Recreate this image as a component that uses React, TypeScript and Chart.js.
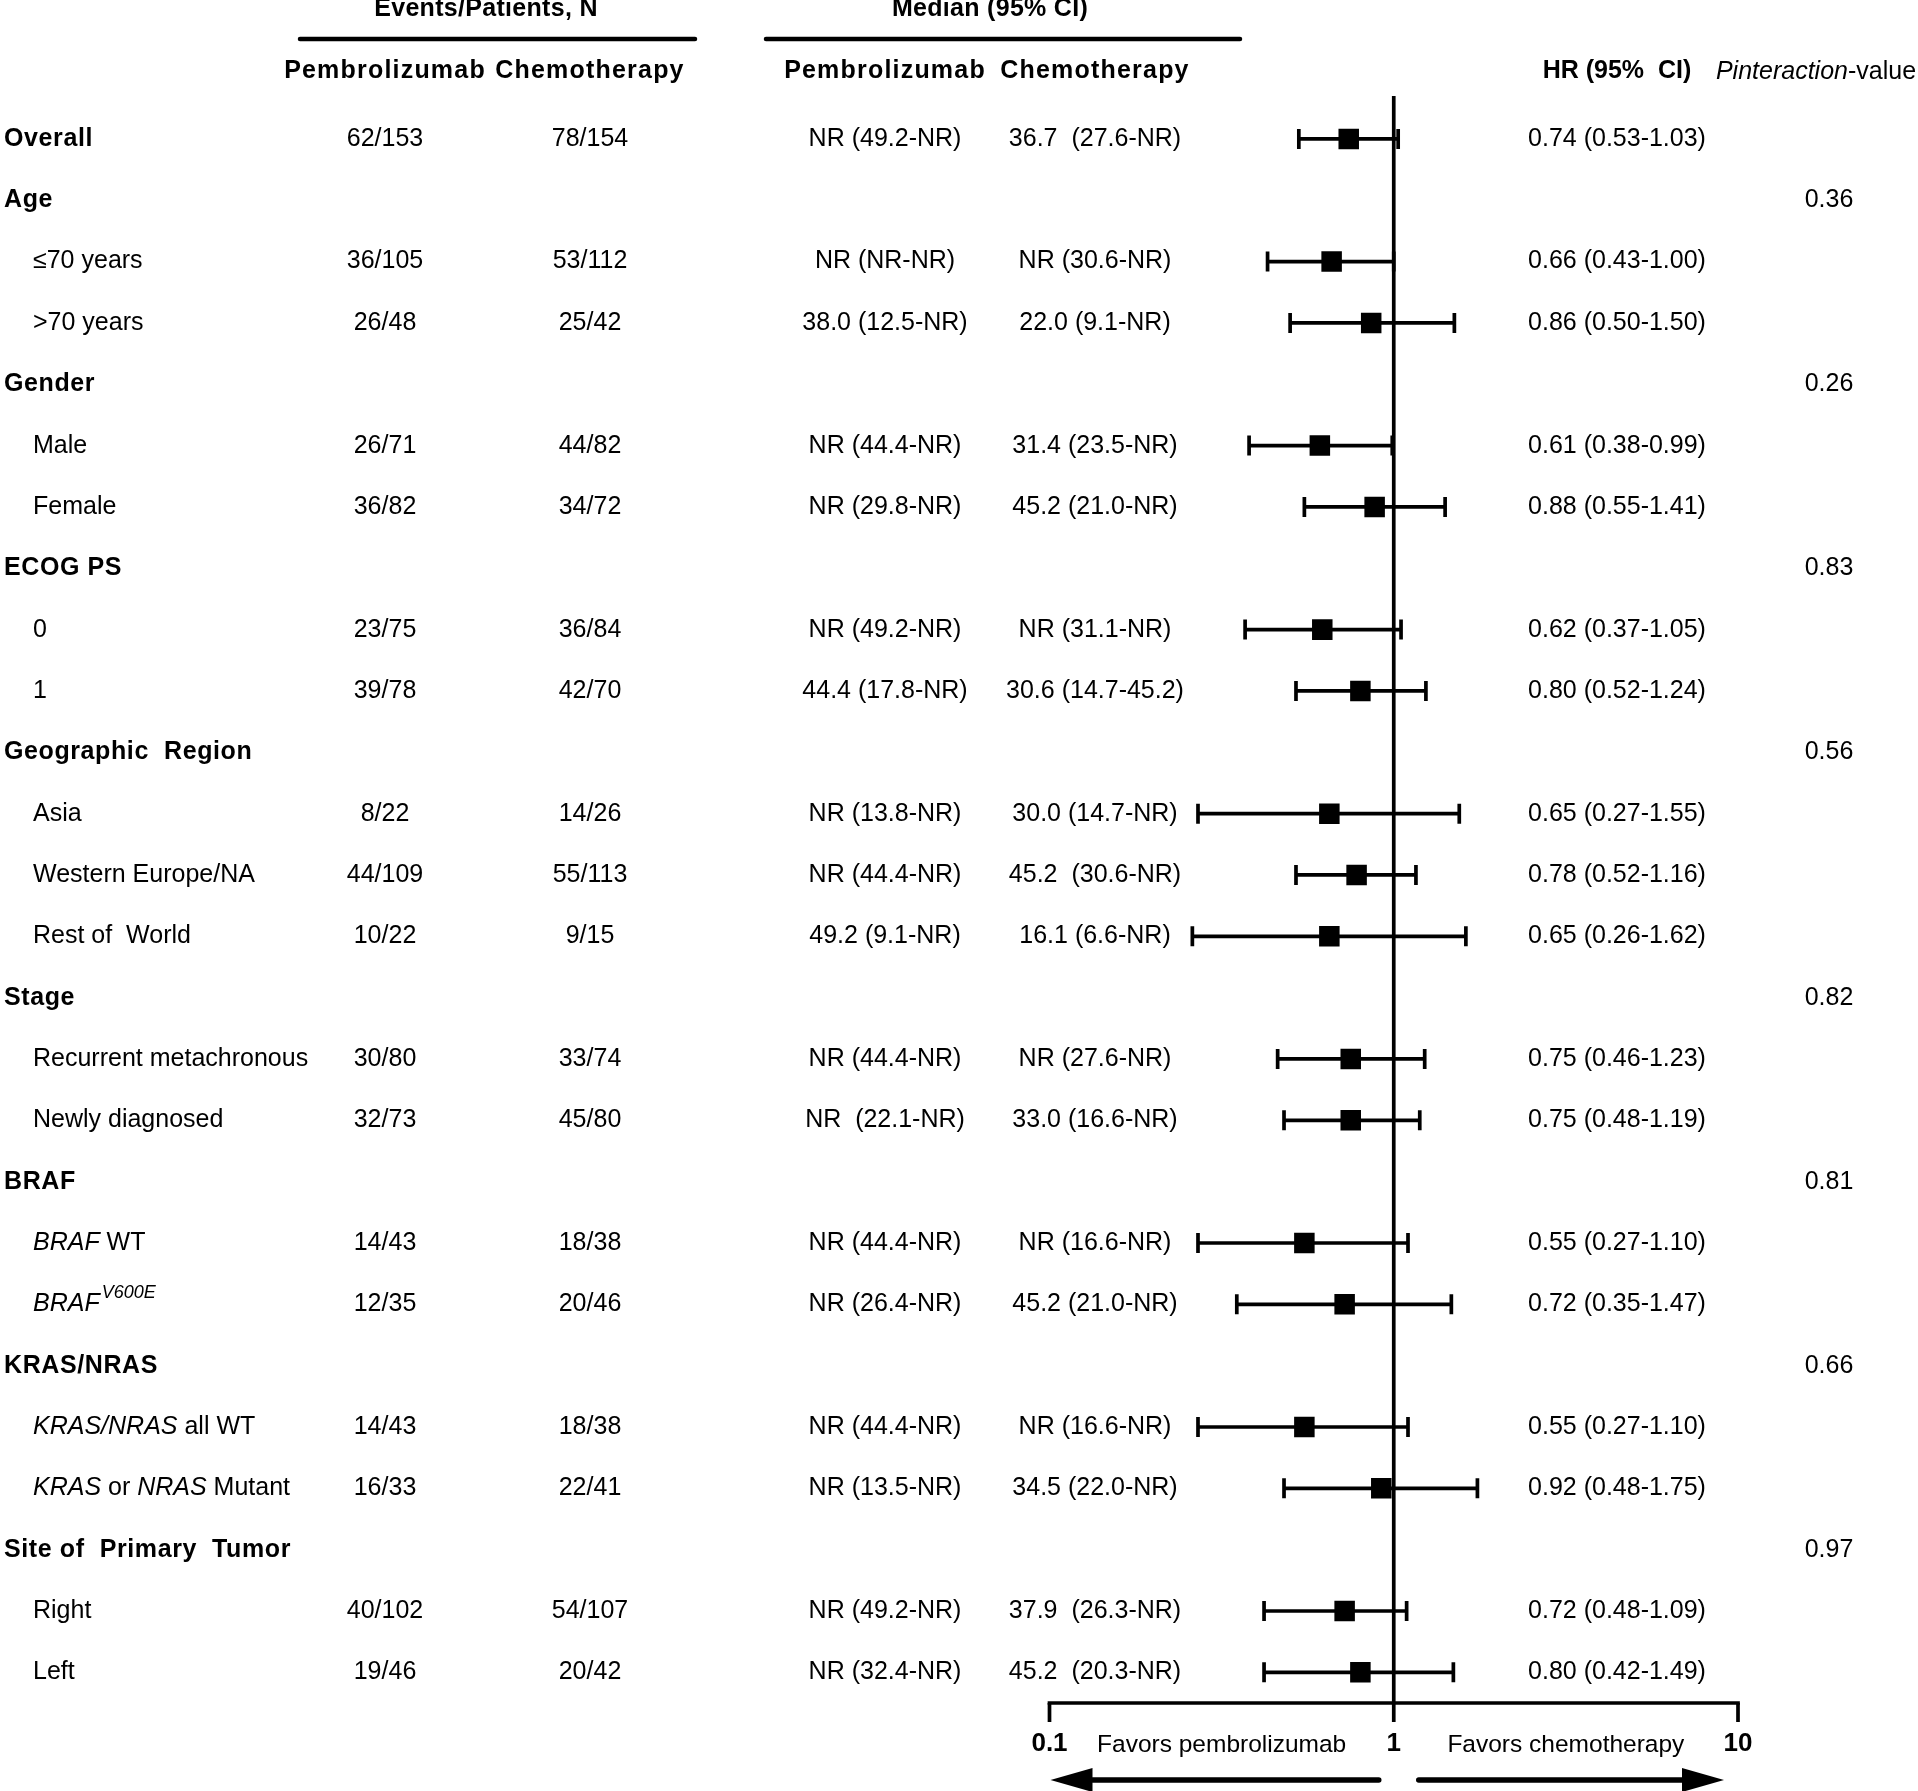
import React, { useEffect, useRef } from "react";
import { Chart, registerables } from "chart.js";

Chart.register(...registerables);

const W = 1918;
const H = 1791;

// ---------- data ----------
const rowLabels = [
  "Overall", "Age", "≤70 years", ">70 years", "Gender", "Male", "Female",
  "ECOG PS", "0", "1", "Geographic  Region", "Asia", "Western Europe/NA",
  "Rest of  World", "Stage", "Recurrent metachronous", "Newly diagnosed",
  "BRAF", "*BRAF* WT", "*BRAF*^V600E", "KRAS/NRAS", "*KRAS/NRAS* all WT",
  "*KRAS* or *NRAS* Mutant", "Site of  Primary  Tumor", "Right", "Left",
];
const isGroup = [
  true, true, false, false, true, false, false, true, false, false, true, false, false,
  false, true, false, false, true, false, false, true, false, false, true, false, false,
];
const eventsPembro = [
  "62/153", "", "36/105", "26/48", "", "26/71", "36/82", "", "23/75", "39/78", "",
  "8/22", "44/109", "10/22", "", "30/80", "32/73", "", "14/43", "12/35", "", "14/43",
  "16/33", "", "40/102", "19/46",
];
const eventsChemo = [
  "78/154", "", "53/112", "25/42", "", "44/82", "34/72", "", "36/84", "42/70", "",
  "14/26", "55/113", "9/15", "", "33/74", "45/80", "", "18/38", "20/46", "", "18/38",
  "22/41", "", "54/107", "20/42",
];
const medianPembro = [
  "NR (49.2-NR)", "", "NR (NR-NR)", "38.0 (12.5-NR)", "", "NR (44.4-NR)", "NR (29.8-NR)", "",
  "NR (49.2-NR)", "44.4 (17.8-NR)", "", "NR (13.8-NR)", "NR (44.4-NR)", "49.2 (9.1-NR)", "",
  "NR (44.4-NR)", "NR  (22.1-NR)", "", "NR (44.4-NR)", "NR (26.4-NR)", "", "NR (44.4-NR)",
  "NR (13.5-NR)", "", "NR (49.2-NR)", "NR (32.4-NR)",
];
const medianChemo = [
  "36.7  (27.6-NR)", "", "NR (30.6-NR)", "22.0 (9.1-NR)", "", "31.4 (23.5-NR)", "45.2 (21.0-NR)", "",
  "NR (31.1-NR)", "30.6 (14.7-45.2)", "", "30.0 (14.7-NR)", "45.2  (30.6-NR)", "16.1 (6.6-NR)", "",
  "NR (27.6-NR)", "33.0 (16.6-NR)", "", "NR (16.6-NR)", "45.2 (21.0-NR)", "", "NR (16.6-NR)",
  "34.5 (22.0-NR)", "", "37.9  (26.3-NR)", "45.2  (20.3-NR)",
];
const hrLabels = [
  "0.74 (0.53-1.03)", "", "0.66 (0.43-1.00)", "0.86 (0.50-1.50)", "", "0.61 (0.38-0.99)",
  "0.88 (0.55-1.41)", "", "0.62 (0.37-1.05)", "0.80 (0.52-1.24)", "", "0.65 (0.27-1.55)",
  "0.78 (0.52-1.16)", "0.65 (0.26-1.62)", "", "0.75 (0.46-1.23)", "0.75 (0.48-1.19)", "",
  "0.55 (0.27-1.10)", "0.72 (0.35-1.47)", "", "0.55 (0.27-1.10)", "0.92 (0.48-1.75)", "",
  "0.72 (0.48-1.09)", "0.80 (0.42-1.49)",
];
// plotted values (as drawn in the figure)
const hr = [
  0.74, null, 0.66, 0.86, null, 0.61, 0.88, null, 0.62, 0.8, null, 0.65, 0.78, 0.65, null,
  0.75, 0.75, null, 0.55, 0.72, null, 0.55, 0.92, null, 0.72, 0.8,
];
const hrLow = [
  0.53, null, 0.43, 0.5, null, 0.38, 0.55, null, 0.37, 0.52, null, 0.27, 0.52, 0.26, null,
  0.46, 0.48, null, 0.27, 0.35, null, 0.27, 0.48, null, 0.42, 0.42,
];
const hrHigh = [
  1.03, null, 1.0, 1.5, null, 0.99, 1.41, null, 1.05, 1.24, null, 1.55, 1.16, 1.62, null,
  1.23, 1.19, null, 1.1, 1.47, null, 1.1, 1.75, null, 1.09, 1.49,
];
const pInteraction = [
  "", "0.36", "", "", "0.26", "", "", "0.83", "", "", "0.56", "", "", "", "0.82", "", "",
  "0.81", "", "", "0.66", "", "", "0.97", "", "",
];
const xTicks = [0.1, 1, 10];
const xTickLabels = ["0.1", "1", "10"];
const favorsLabels = ["Favors pembrolizumab", "Favors chemotherapy"];

// ---------- layout (styles / positions) ----------
const FAMILY = '"Liberation Sans", Arial, sans-serif';
const COL = { group: 4, sub: 33, evP: 385, evC: 590, medP: 885, medC: 1095, hr: 1617, p: 1829 };
const BODY = 25;
const LW = 3.7;
const Y_MIN = -0.7;
const Y_MAX = 25.5;

function fnt(size: number, bold = false, italic = false) {
  return `${italic ? "italic " : ""}${bold ? "bold " : ""}${size}px ${FAMILY}`;
}

type Seg = { t: string; i: boolean; sup: boolean };
function parseRich(s: string): Seg[] {
  const segs: Seg[] = [];
  let italic = false;
  let sup = false;
  let cur = "";
  const push = () => {
    if (cur) segs.push({ t: cur, i: italic, sup });
    cur = "";
  };
  for (const ch of s) {
    if (ch === "*") { push(); italic = !italic; }
    else if (ch === "^") { push(); sup = true; italic = true; }
    else cur += ch;
  }
  push();
  return segs;
}

function drawRich(
  ctx: CanvasRenderingContext2D, text: string, x: number, y: number,
  size: number, bold: boolean, align: "left" | "center", spacing = 0
) {
  const segs = parseRich(text);
  ctx.save();
  (ctx as any).letterSpacing = spacing + "px";
  ctx.textBaseline = "middle";
  ctx.textAlign = "left";
  const sz = (s: Seg) => (s.sup ? size * 0.72 : size);
  const widths = segs.map((s) => {
    ctx.font = fnt(sz(s), bold, s.i);
    return ctx.measureText(s.t).width;
  });
  const total = widths.reduce((a, b) => a + b, 0);
  let cx = align === "center" ? x - total / 2 : x;
  segs.forEach((s, k) => {
    ctx.font = fnt(sz(s), bold, s.i);
    ctx.fillText(s.t, cx + (s.sup ? 2 : 0), s.sup ? y - size * 0.45 : y);
    cx += widths[k];
  });
  ctx.restore();
}

function hline(ctx: CanvasRenderingContext2D, x1: number, x2: number, y: number, w: number) {
  ctx.beginPath();
  ctx.moveTo(x1, y);
  ctx.lineTo(x2, y);
  ctx.lineWidth = w;
  ctx.stroke();
}

function arrow(ctx: CanvasRenderingContext2D, from: number, to: number, y: number) {
  const dir = Math.sign(to - from);
  const head = 42;
  const half = 12;
  ctx.beginPath();
  ctx.moveTo(from, y);
  ctx.lineTo(to - dir * head, y);
  ctx.lineWidth = 5.5;
  ctx.lineCap = "round";
  ctx.stroke();
  ctx.beginPath();
  ctx.moveTo(to, y);
  ctx.lineTo(to - dir * head, y - half);
  ctx.lineTo(to - dir * head, y + half);
  ctx.closePath();
  ctx.fill();
}

const tablePlugin = {
  id: "forestTable",
  afterDraw(chart: any) {
    const ctx: CanvasRenderingContext2D = chart.ctx;
    const xs = chart.scales.x;
    const ys = chart.scales.y;
    const area = chart.chartArea;
    ctx.save();
    ctx.fillStyle = "#000";
    ctx.strokeStyle = "#000";
    ctx.lineCap = "round";

    // column headers
    drawRich(ctx, "Events/Patients, N", 486, 9, BODY, true, "center", 0.3);
    drawRich(ctx, "Median (95% CI)", 990, 9, BODY, true, "center", 0.3);
    hline(ctx, 300, 695, 39, 4.5);
    hline(ctx, 766, 1240, 39, 4.5);
    drawRich(ctx, "Pembrolizumab", COL.evP, 71, BODY, true, "center", 1.2);
    drawRich(ctx, "Chemotherapy", COL.evC, 71, BODY, true, "center", 1.2);
    drawRich(ctx, "Pembrolizumab", COL.medP, 71, BODY, true, "center", 1.2);
    drawRich(ctx, "Chemotherapy", COL.medC, 71, BODY, true, "center", 1.2);
    drawRich(ctx, "HR (95%  CI)", COL.hr, 71, BODY, true, "center", 0);
    drawRich(ctx, "*Pinteraction*-value", 1816, 72, BODY, false, "center", 0);

    // rows
    rowLabels.forEach((lab, i) => {
      const y = ys.getPixelForValue(i);
      if (isGroup[i]) drawRich(ctx, lab, COL.group, y, BODY, true, "left", 0.6);
      else drawRich(ctx, lab, COL.sub, y, BODY, false, "left", 0);
      if (eventsPembro[i]) drawRich(ctx, eventsPembro[i], COL.evP, y, BODY, false, "center");
      if (eventsChemo[i]) drawRich(ctx, eventsChemo[i], COL.evC, y, BODY, false, "center");
      if (medianPembro[i]) drawRich(ctx, medianPembro[i], COL.medP, y, BODY, false, "center");
      if (medianChemo[i]) drawRich(ctx, medianChemo[i], COL.medC, y, BODY, false, "center");
      if (hrLabels[i]) drawRich(ctx, hrLabels[i], COL.hr, y, BODY, false, "center");
      if (pInteraction[i]) drawRich(ctx, pInteraction[i], COL.p, y, BODY, false, "center");
    });

    // bottom axis
    const yb = area.bottom;
    ctx.lineCap = "butt";
    hline(ctx, xs.getPixelForValue(xTicks[0]) - LW / 2, xs.getPixelForValue(xTicks[xTicks.length - 1]) + LW / 2, yb, LW);
    xTicks.forEach((t, k) => {
      const px = xs.getPixelForValue(t);
      ctx.beginPath();
      ctx.moveTo(px, yb);
      ctx.lineTo(px, yb + 19);
      ctx.lineWidth = LW;
      ctx.stroke();
      drawRich(ctx, xTickLabels[k], px, 1744, 26, true, "center");
    });
    const p0 = xs.getPixelForValue(xTicks[0]);
    const p1 = xs.getPixelForValue(xTicks[1]);
    const p2 = xs.getPixelForValue(xTicks[2]);
    drawRich(ctx, favorsLabels[0], (p0 + p1) / 2, 1745, 24.5, false, "center");
    drawRich(ctx, favorsLabels[1], (p1 + p2) / 2, 1745, 24.5, false, "center");
    arrow(ctx, p1 - 15, p0 + 1, 1780);
    arrow(ctx, p1 + 25, p2 - 14, 1780);
    ctx.restore();
  },
};

export default function App() {
  const ref = useRef<HTMLCanvasElement | null>(null);
  useEffect(() => {
    if (!ref.current) return;
    const squares: any[] = [];
    const caps: any[] = [];
    const ciSets: any[] = [];
    hr.forEach((v, i) => {
      const lo = hrLow[i];
      const hi = hrHigh[i];
      if (v == null || lo == null || hi == null) return;
      squares.push({ x: v, y: i });
      caps.push({ x: lo, y: i }, { x: hi, y: i });
      ciSets.push({
        data: [{ x: lo, y: i }, { x: hi, y: i }],
        showLine: true,
        borderColor: "#000",
        borderWidth: LW,
        pointRadius: 0,
        borderCapStyle: "butt",
      });
    });
    const chart = new Chart(ref.current, {
      type: "scatter",
      data: {
        datasets: [
          {
            data: squares,
            pointStyle: "rect",
            pointRadius: 14.5,
            backgroundColor: "#000",
            borderColor: "#000",
            borderWidth: 0,
          },
          {
            data: caps,
            pointStyle: "line",
            rotation: 90,
            pointRadius: 10,
            borderColor: "#000",
            borderWidth: LW,
          } as any,
          ...ciSets,
          {
            data: [{ x: 1, y: Y_MIN }, { x: 1, y: Y_MAX }],
            showLine: true,
            borderColor: "#000",
            borderWidth: LW,
            pointRadius: 0,
          },
        ],
      },
      options: {
        animation: false,
        responsive: false,
        devicePixelRatio: 1,
        layout: { padding: { left: 1049.5, right: 180, top: 96, bottom: H - 1703 } },
        scales: {
          x: { type: "logarithmic", min: 0.1, max: 10, display: false },
          y: { type: "linear", min: Y_MIN, max: Y_MAX, reverse: true, display: false },
        },
        plugins: { legend: { display: false }, tooltip: { enabled: false } },
      },
      plugins: [tablePlugin],
    });
    return () => chart.destroy();
  }, []);
  return (
    <div style={{ position: "absolute", left: 0, top: 0, width: W, height: H, background: "#fff" }}>
      <canvas ref={ref} width={W} height={H} style={{ width: W, height: H, display: "block" }} />
    </div>
  );
}
